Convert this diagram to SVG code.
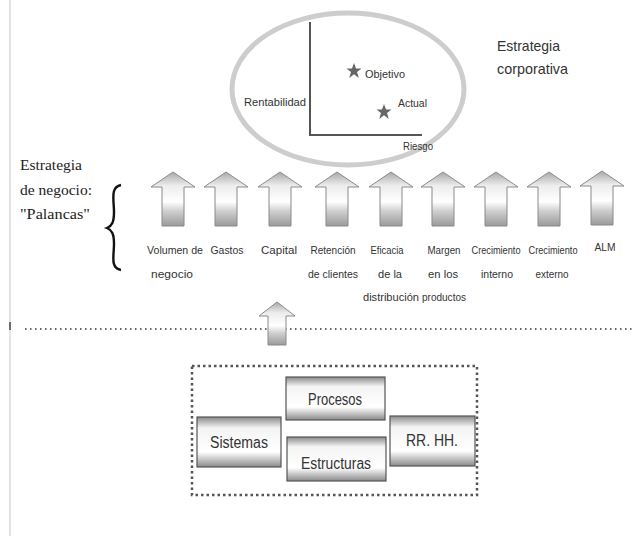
<svg xmlns="http://www.w3.org/2000/svg" width="635" height="536" viewBox="0 0 635 536">
<defs>
<style>
.t{font-family:"Liberation Sans",Arial,sans-serif;fill:#333}
.s{font-family:"Liberation Serif","Times New Roman",serif;fill:#222}
.lab{font-size:11.5px;text-anchor:middle}
.box{fill:url(#bg);stroke:#555;stroke-width:1.2}
.bt{font-size:16px;text-anchor:middle}
.arr{fill:url(#ag);stroke:#8a8a8a;stroke-width:1}
</style>
<linearGradient id="ag" x1="0" y1="0" x2="0" y2="1">
<stop offset="0" stop-color="#a8a8a8"/>
<stop offset="0.25" stop-color="#ececec"/>
<stop offset="0.55" stop-color="#ffffff"/>
<stop offset="0.72" stop-color="#d0d0d0"/>
<stop offset="1" stop-color="#9a9a9a"/>
</linearGradient>
<linearGradient id="bg" x1="0" y1="0" x2="0" y2="1">
<stop offset="0" stop-color="#8a8a8a"/>
<stop offset="0.22" stop-color="#f4f4f4"/>
<stop offset="0.7" stop-color="#ffffff"/>
<stop offset="1" stop-color="#8a8a8a"/>
</linearGradient>
<path id="star" d="M0,-8 L2,-2.5 L7.5,-2.5 L3,1 L4.8,7 L0,3.3 L-4.8,7 L-3,1 L-7.5,-2.5 L-2,-2.5 Z"/>
<path id="up" d="M0,0 L22,15 L11,15 L11,54 L-11,54 L-11,15 L-22,15 Z"/>
</defs>
<rect width="635" height="536" fill="#ffffff"/>
<line x1="10" y1="0" x2="10" y2="536" stroke="#c8c8c8" stroke-width="1"/>
<line x1="10" y1="322" x2="10" y2="330" stroke="#444" stroke-width="1.5"/>

<g id="corporativa">
<ellipse cx="348" cy="89" rx="116" ry="76" fill="none" stroke="#cdcdcd" stroke-width="5"/>
<polyline points="310,22 310,135 422,135" fill="none" stroke="#555" stroke-width="2"/>
<text class="t" x="244" y="106" font-size="11.5" textLength="62" lengthAdjust="spacingAndGlyphs">Rentabilidad</text>
<use href="#star" x="354" y="71" fill="#666"/>
<text class="t" x="365" y="78" font-size="11.5" textLength="40" lengthAdjust="spacingAndGlyphs">Objetivo</text>
<use href="#star" x="384" y="112" fill="#666"/>
<text class="t" x="398" y="107" font-size="11.5" textLength="29" lengthAdjust="spacingAndGlyphs">Actual</text>
<text class="t" x="403" y="150" font-size="11.5" textLength="30" lengthAdjust="spacingAndGlyphs">Riesgo</text>
<text class="t" x="497" y="51" font-size="15" textLength="63" lengthAdjust="spacingAndGlyphs">Estrategia</text>
<text class="t" x="497" y="74" font-size="15" textLength="71" lengthAdjust="spacingAndGlyphs">corporativa</text>
</g>

<g id="negocio">
<text class="s" x="20" y="170" font-size="14" textLength="62" lengthAdjust="spacingAndGlyphs">Estrategia</text>
<text class="s" x="20" y="195" font-size="14" textLength="72" lengthAdjust="spacingAndGlyphs">de negocio:</text>
<text class="s" x="20" y="219" font-size="14" textLength="70" lengthAdjust="spacingAndGlyphs">"Palancas"</text>
<path d="M121,185 C110,187 114,200 114,212 C114,222 112,226 107,228 C112,230 114,234 114,244 C114,256 110,268 121,270" fill="none" stroke="#111" stroke-width="2.4"/>
</g>

<g id="palancas">
<use href="#up" x="173" y="172" class="arr"/>
<use href="#up" x="226" y="172" class="arr"/>
<use href="#up" x="280" y="172" class="arr"/>
<use href="#up" x="337" y="172" class="arr"/>
<use href="#up" x="391" y="172" class="arr"/>
<use href="#up" x="443" y="172" class="arr"/>
<use href="#up" x="496" y="172" class="arr"/>
<use href="#up" x="549" y="172" class="arr"/>
<use href="#up" x="602" y="171" class="arr"/>
<text class="t lab" x="175" y="254" textLength="56" lengthAdjust="spacingAndGlyphs">Volumen de</text>
<text class="t lab" x="172" y="278" textLength="42" lengthAdjust="spacingAndGlyphs">negocio</text>
<text class="t lab" x="227" y="254" textLength="33" lengthAdjust="spacingAndGlyphs">Gastos</text>
<text class="t lab" x="279" y="254" textLength="36" lengthAdjust="spacingAndGlyphs">Capital</text>
<text class="t lab" x="333" y="254" textLength="45" lengthAdjust="spacingAndGlyphs">Retención</text>
<text class="t lab" x="333" y="278" textLength="50" lengthAdjust="spacingAndGlyphs">de clientes</text>
<text class="t lab" x="387" y="254" textLength="33" lengthAdjust="spacingAndGlyphs">Eficacia</text>
<text class="t lab" x="390" y="278" textLength="24" lengthAdjust="spacingAndGlyphs">de la</text>
<text class="t lab" x="391" y="301" textLength="56" lengthAdjust="spacingAndGlyphs">distribución</text>
<text class="t lab" x="444" y="254" textLength="33" lengthAdjust="spacingAndGlyphs">Margen</text>
<text class="t lab" x="443" y="278" textLength="30" lengthAdjust="spacingAndGlyphs">en los</text>
<text class="t lab" x="444" y="301" textLength="44" lengthAdjust="spacingAndGlyphs">productos</text>
<text class="t lab" x="496" y="254" textLength="49" lengthAdjust="spacingAndGlyphs">Crecimiento</text>
<text class="t lab" x="497" y="278" textLength="32" lengthAdjust="spacingAndGlyphs">interno</text>
<text class="t lab" x="553" y="254" textLength="49" lengthAdjust="spacingAndGlyphs">Crecimiento</text>
<text class="t lab" x="552" y="278" textLength="33" lengthAdjust="spacingAndGlyphs">externo</text>
<text class="t lab" x="605" y="251" textLength="21" lengthAdjust="spacingAndGlyphs">ALM</text>
</g>

<g id="connectors">
<line x1="25" y1="329" x2="635" y2="329" stroke="#666" stroke-width="2" stroke-dasharray="1.5 3.5"/>
<path d="M277,302 L295,316 L286,316 L286,345 L268,345 L268,316 L259,316 Z" class="arr"/>
</g>

<g id="habilitadores">
<rect x="192" y="366" width="285" height="129" fill="none" stroke="#555" stroke-width="2.5" stroke-dasharray="2.5 3"/>
<g id="procesos"><rect class="box" x="286" y="377" width="99" height="43"/><text class="t bt" x="335" y="405" textLength="54" lengthAdjust="spacingAndGlyphs">Procesos</text></g>
<g id="sistemas"><rect class="box" x="197" y="417" width="84" height="50"/><text class="t bt" x="239" y="448" textLength="58" lengthAdjust="spacingAndGlyphs">Sistemas</text></g>
<g id="estructuras"><rect class="box" x="287" y="437" width="99" height="44"/><text class="t bt" x="336" y="469" textLength="70" lengthAdjust="spacingAndGlyphs">Estructuras</text></g>
<g id="rrhh"><rect class="box" x="390" y="416" width="85" height="50"/><text class="t bt" x="432" y="446" textLength="52" lengthAdjust="spacingAndGlyphs">RR. HH.</text></g>
</g>
</svg>
